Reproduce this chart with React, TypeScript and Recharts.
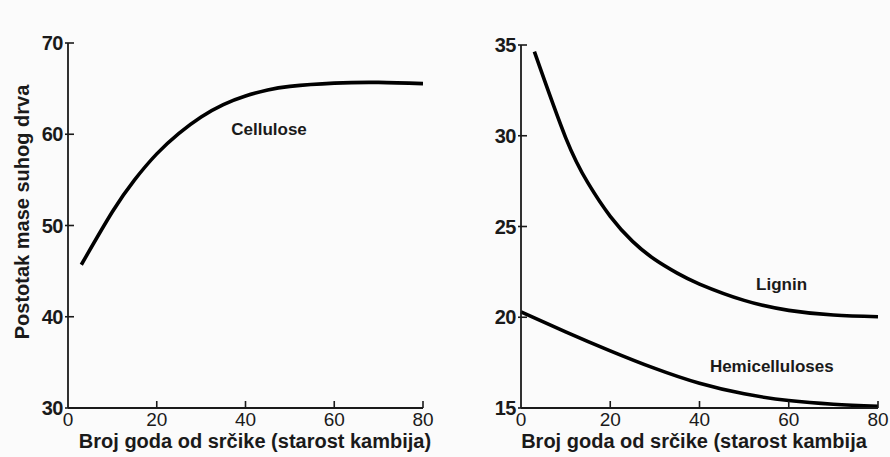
import { LineChart, Line, XAxis, YAxis, ReferenceDot } from 'recharts';

const years = [3, 10, 15, 20, 25, 30, 35, 40, 45, 50, 60, 70, 80];
const cellulose = [45.7, 51.5, 55.0, 57.85, 60.1, 61.9, 63.25, 64.2, 64.85, 65.25, 65.6, 65.68, 65.55];

const yearsLignin = [3, 10, 15, 20, 25, 30, 35, 40, 50, 60, 70, 80];
const lignin = [34.63, 29.9, 27.4, 25.56, 24.18, 23.18, 22.43, 21.83, 20.93, 20.38, 20.12, 20.03];

const yearsHemi = [0, 10, 20, 30, 40, 50, 60, 70, 80];
const hemicelluloses = [20.3, 19.2, 18.15, 17.18, 16.36, 15.78, 15.41, 15.21, 15.1];

const xTicks = [0, 20, 40, 60, 80];
const leftTicks = [30, 40, 50, 60, 70];
const rightTicks = [15, 20, 25, 30, 35];

const xLabel = 'Broj goda od srčike (starost kambija)';
const xLabelRight = 'Broj goda od srčike (starost kambija';
const yLabel = 'Postotak mase suhog drva';

const leftData = years.map((x, i) => ({ x, cellulose: cellulose[i] }));
const ligninData = yearsLignin.map((x, i) => ({ x, v: lignin[i] }));
const hemiData = yearsHemi.map((x, i) => ({ x, v: hemicelluloses[i] }));

const font = 'Arial, "Liberation Sans", Helvetica, sans-serif';
const ink = '#1a1a1a';

function YTick(props: any) {
  const { x, y, payload } = props;
  return (
    <g>
      <line x1={x - 3} x2={x + 6} y1={y} y2={y} stroke={ink} strokeWidth={1.6} />
      <text x={x - 5} y={y} textAnchor="end" dominantBaseline="central" fontSize={20} fontWeight={700} fill={ink} fontFamily={font} letterSpacing={-0.5}>
        {payload.value}
      </text>
    </g>
  );
}

function XTick(props: any) {
  const { x, y, payload, index } = props;
  return (
    <g>
      {index > 0 && <line x1={x} x2={x} y1={y} y2={y - 7} stroke={ink} strokeWidth={1.6} />}
      <text x={x} y={y + 11} textAnchor="middle" dominantBaseline="central" fontSize={19} fill={ink} fontFamily={font}>
        {payload.value}
      </text>
    </g>
  );
}

function Tag({ text }: { text: string }) {
  return (props: any) => (
    <text x={props.viewBox.x} y={props.viewBox.y} textAnchor="middle" dominantBaseline="central" fontSize={17} fontWeight={700} fill={ink} fontFamily={font}>
      {text}
    </text>
  );
}

export default function App() {
  return (
    <div style={{ position: 'absolute', left: 0, top: 0, width: 890, height: 457, background: '#fbfbfb', fontFamily: font }}>
      <div style={{ position: 'absolute', left: 0, top: 0 }}>
        <LineChart width={450} height={457} data={leftData} margin={{ top: 43, right: 27, bottom: 0, left: 28 }}>
          <XAxis
            dataKey="x"
            type="number"
            domain={[0, 80]}
            ticks={xTicks}
            height={49}
            tick={<XTick />}
            tickLine={false}
            tickSize={0}
            tickMargin={0}
            axisLine={{ stroke: ink, strokeWidth: 1.8 }}
          />
          <YAxis
            type="number"
            domain={[30, 70]}
            ticks={leftTicks}
            width={40}
            tick={<YTick />}
            tickLine={false}
            tickSize={0}
            tickMargin={0}
            axisLine={{ stroke: ink, strokeWidth: 1.8 }}
          />
          <Line type="natural" dataKey="cellulose" stroke="#000" strokeWidth={3.6} dot={false} isAnimationActive={false} />
          <ReferenceDot x={45.3} y={60.5} r={0} label={Tag({ text: 'Cellulose' })} />
        </LineChart>
      </div>
      <div style={{ position: 'absolute', left: 453, top: 0 }}>
        <LineChart width={437} height={457} margin={{ top: 45, right: 12, bottom: 0, left: 28 }}>
          <XAxis
            dataKey="x"
            type="number"
            domain={[0, 80]}
            ticks={xTicks}
            height={49}
            tick={<XTick />}
            tickLine={false}
            tickSize={0}
            tickMargin={0}
            axisLine={{ stroke: ink, strokeWidth: 1.8 }}
            allowDuplicatedCategory={false}
          />
          <YAxis
            type="number"
            domain={[15, 35]}
            ticks={rightTicks}
            width={40}
            tick={<YTick />}
            tickLine={false}
            tickSize={0}
            tickMargin={0}
            axisLine={{ stroke: ink, strokeWidth: 1.8 }}
          />
          <Line data={ligninData} type="natural" dataKey="v" stroke="#000" strokeWidth={3.6} dot={false} isAnimationActive={false} />
          <Line data={hemiData} type="natural" dataKey="v" stroke="#000" strokeWidth={3.6} dot={false} isAnimationActive={false} />
          <ReferenceDot x={58.4} y={21.8} r={0} label={Tag({ text: 'Lignin' })} />
          <ReferenceDot x={56.2} y={17.3} r={0} label={Tag({ text: 'Hemicelluloses' })} />
        </LineChart>
      </div>
      <div style={{ position: 'absolute', left: 55, top: 430, width: 400, textAlign: 'center', fontSize: 20, fontWeight: 700, color: ink, whiteSpace: 'nowrap', lineHeight: '22px' }}>
        {xLabel}
      </div>
      <div style={{ position: 'absolute', left: 494, top: 430, width: 400, textAlign: 'center', fontSize: 20, fontWeight: 700, color: ink, whiteSpace: 'nowrap', lineHeight: '22px' }}>
        {xLabelRight}
      </div>
      <div
        style={{
          position: 'absolute',
          left: 22,
          top: 212,
          transform: 'translate(-50%, -50%) rotate(-90deg)',
          fontSize: 20,
          fontWeight: 700,
          color: ink,
          whiteSpace: 'nowrap',
        }}
      >
        {yLabel}
      </div>
    </div>
  );
}
